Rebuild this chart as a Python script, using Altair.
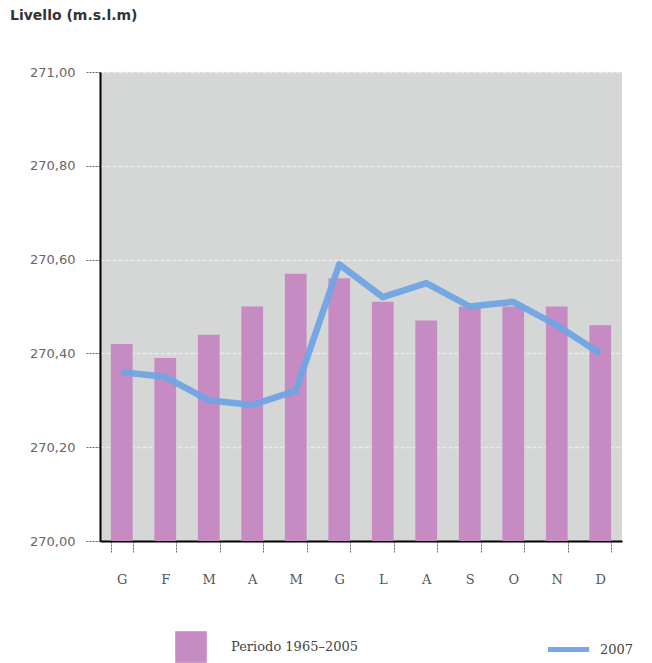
import altair as alt
import pandas as pd

mesi = ["G", "F", "M", "A", "M", "G", "L", "A", "S", "O", "N", "D"]
periodo_1965_2005 = [270.42, 270.39, 270.44, 270.50, 270.57, 270.56, 270.51, 270.47, 270.50, 270.50, 270.50, 270.46]
anno_2007 = [270.36, 270.35, 270.30, 270.29, 270.32, 270.59, 270.52, 270.55, 270.50, 270.51, 270.46, 270.40]
y_ticks = [270.0, 270.2, 270.4, 270.6, 270.8, 271.0]
serie_bar = "Periodo 1965\u20132005"
serie_line = "2007"
titolo = "Livello (m.s.l.m)"

df = pd.DataFrame({
    "idx": list(range(12)),
    "mese": mesi,
    "periodo": periodo_1965_2005,
    "anno": anno_2007,
    "base": [270.0] * 12,
    "s_bar": [serie_bar] * 12,
    "s_line": [serie_line] * 12,
})

label_arr = "[" + ",".join("'" + m + "'" for m in mesi) + "]"

x = alt.X("idx:O",
          scale=alt.Scale(paddingInner=0.5, paddingOuter=0.25),
          axis=alt.Axis(title=None, labelAngle=0, labelExpr=label_arr + "[datum.value]",
                        tickBand="extent", tickSize=12, tickColor="#666", tickDash=[2, 1],
                        domainColor="#000", domainWidth=2, labelPadding=20,
                        labelFont="DejaVu Serif", labelFontSize=13, labelColor="#555"))

yscale = alt.Scale(domain=[270.0, 271.0], zero=False, nice=False)

base = alt.Chart(df)

bars = base.mark_bar(opacity=1).encode(
    x=x,
    y=alt.Y("periodo:Q", scale=yscale,
            axis=alt.Axis(title=None, values=y_ticks,
                          labelExpr="replace(format(datum.value, '.2f'), '.', ',')",
                          tickSize=14, tickColor="#666", tickDash=[2, 1], labelPadding=11,
                          domainColor="#000", domainWidth=2,
                          grid=True, gridColor="#e9ebeb", gridDash=[4, 2], gridWidth=1.5,
                          labelFont="DejaVu Sans", labelFontSize=13, labelColor="#666")),
    y2="base:Q",
    fill=alt.Fill("s_bar:N", scale=alt.Scale(domain=[serie_bar], range=["#c68bc2"]),
                  legend=alt.Legend(title=None, orient="none", legendX=75, legendY=559,
                                    symbolType="square", symbolSize=1000, symbolStrokeWidth=0,
                                    labelOffset=24, labelFont="DejaVu Serif",
                                    labelFontSize=13, labelColor="#444", padding=0)),
)

line = base.mark_line(strokeWidth=6.5, strokeJoin="round", opacity=0.95).encode(
    x=x,
    y=alt.Y("anno:Q", scale=yscale),
    stroke=alt.Stroke("s_line:N", scale=alt.Scale(domain=[serie_line], range=["#70a4e4"]),
                      legend=alt.Legend(title=None, orient="none", legendX=445, legendY=554,
                                        symbolType="stroke", symbolSize=1700, symbolStrokeWidth=5,
                                        labelOffset=8, labelFont="DejaVu Serif",
                                        labelFontSize=13, labelColor="#444", padding=0)),
)

title = alt.Chart(pd.DataFrame({"t": [titolo]})).mark_text(
    align="left", baseline="middle", fontWeight="bold", font="DejaVu Sans",
    fontSize=14, color="#333"
).encode(text="t:N", x=alt.value(-90), y=alt.value(-56))

chart = alt.layer(bars, line, title).resolve_scale(
    fill="independent", stroke="independent"
).properties(
    width=522, height=469,
    autosize=alt.AutoSizeParams(type="none"),
    padding={"left": 92, "top": 64, "right": 22, "bottom": 122},
).configure_view(fill="#d5d7d7", stroke=None)

chart.save("out.html", embed_options={"renderer": "svg", "actions": False})
